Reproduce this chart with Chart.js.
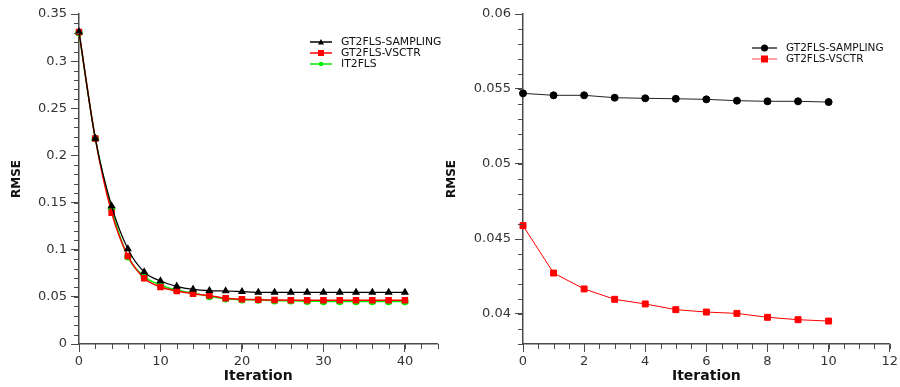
<!DOCTYPE html>
<html>
<head>
<meta charset="utf-8">
<script src="https://cdn.jsdelivr.net/npm/chart.js@4.4.1/dist/chart.umd.min.js"></script>
<style>
  body { margin: 0; background: #fff; }
  #wrap { position: relative; width: 900px; height: 387px; overflow: hidden; }
  #left { position: absolute; left: 0; top: 0; }
  #right { position: absolute; left: 443px; top: 0; }
</style>
</head>
<body>
<div id="wrap">
  <canvas id="left" width="443" height="387"></canvas>
  <canvas id="right" width="457" height="387"></canvas>
</div>
<script>
// left chart: RMSE over 40 iterations
var iterLeft = [0, 2, 4, 6, 8, 10, 12, 14, 16, 18, 20, 22, 24, 26, 28, 30, 32, 34, 36, 38, 40];
var samplingLeft = [0.331, 0.218, 0.1464, 0.1008, 0.0764, 0.0668, 0.0612, 0.058, 0.0566, 0.0562, 0.0555,
                    0.0548, 0.0548, 0.0548, 0.0548, 0.0548, 0.0548, 0.0548, 0.0548, 0.0548, 0.0548];
var vsctrLeft = [0.331, 0.218, 0.1393, 0.0933, 0.0697, 0.0605, 0.0562, 0.0534, 0.0513, 0.0485, 0.0474,
                 0.047, 0.0467, 0.0464, 0.0463, 0.0463, 0.0463, 0.0463, 0.0463, 0.0463, 0.0463];
var it2Left = [0.33, 0.218, 0.1435, 0.0926, 0.0714, 0.0626, 0.0569, 0.0541, 0.0505, 0.048, 0.047,
               0.0467, 0.046, 0.046, 0.0454, 0.0452, 0.045, 0.045, 0.045, 0.045, 0.045];

// right chart: 10 iterations, zoomed
var iterRight = [0, 1, 2, 3, 4, 5, 6, 7, 8, 9, 10];
var samplingRight = [0.05471, 0.05458, 0.05458, 0.05442, 0.05438, 0.05435, 0.05431, 0.05422, 0.05418, 0.05418, 0.05413];
var vsctrRight = [0.04589, 0.04273, 0.04167, 0.04098, 0.04067, 0.04029, 0.04013, 0.04004, 0.03978, 0.03962, 0.03953];

var axisCol = '#4a4a4a';
var textCol = '#333';

function pts(xs, ys) {
  var out = [];
  for (var i in xs) out.push({x: xs[i], y: ys[i]});
  return out;
}

function isMultiple(v, step) {
  var r = v / step;
  return Math.abs(r - Math.round(r)) < 1e-6;
}

// short minor ticks between the labelled ones
var minorTicks = {
  id: 'minorTicks',
  afterDraw: function(chart) {
    var ctx = chart.ctx;
    var cfg = chart.options.plugins.minorTicks;
    ctx.save();
    ctx.strokeStyle = axisCol;
    ctx.lineWidth = 1;
    ['x', 'y'].forEach(function(id) {
      var s = chart.scales[id];
      var step = cfg[id];
      var n = Math.round((s.max - s.min) / step);
      for (var k = 0; k <= n; k++) {
        var v = s.min + k * step;
        var p = Math.round(s.getPixelForValue(v)) + 0.5;
        ctx.beginPath();
        if (id === 'x') {
          ctx.moveTo(p, s.top);
          ctx.lineTo(p, s.top + 5);
        } else {
          ctx.moveTo(s.right, p);
          ctx.lineTo(s.right - 5, p);
        }
        ctx.stroke();
      }
    });
    ctx.restore();
  }
};

function drawMarker(ctx, style, x, y, r) {
  ctx.beginPath();
  if (style === 'triangle') {
    ctx.moveTo(x, y - r);
    ctx.lineTo(x + r, y + r * 0.8);
    ctx.lineTo(x - r, y + r * 0.8);
    ctx.closePath();
  } else if (style === 'rect') {
    ctx.rect(x - r, y - r, 2 * r, 2 * r);
  } else {
    ctx.arc(x, y, r, 0, Math.PI * 2);
  }
  ctx.fill();
}

// legend drawn as line + marker, like the original plot
var lineLegend = {
  id: 'lineLegend',
  afterDraw: function(chart) {
    var cfg = chart.options.plugins.lineLegend;
    var ctx = chart.ctx;
    ctx.save();
    ctx.font = cfg.font + 'px "DejaVu Sans"';
    ctx.textBaseline = 'middle';
    chart.data.datasets.forEach(function(ds, i) {
      var y = cfg.y + i * cfg.row;
      ctx.strokeStyle = cfg.lineColors ? cfg.lineColors[i] : ds.borderColor;
      ctx.lineWidth = 1.5;
      ctx.beginPath();
      ctx.moveTo(cfg.x, y);
      ctx.lineTo(cfg.x + cfg.len, y);
      ctx.stroke();
      ctx.fillStyle = ds.pointBackgroundColor;
      drawMarker(ctx, ds.pointStyle, cfg.x + cfg.len / 2, y, cfg.r[i]);
      ctx.fillStyle = '#111';
      ctx.fillText(ds.label, cfg.x + cfg.len + 9, y + 0.5);
    });
    ctx.restore();
  }
};

function axisX(min, max, major, title, titlePad) {
  return {
    type: 'linear', min: min, max: max,
    afterBuildTicks: function(s) {
      s.ticks = s.ticks.filter(function(t) { return isMultiple(t.value, major); });
    },
    afterFit: function(s) { s.height = 43; },
    ticks: { stepSize: major, padding: 2, color: textCol, font: {family: 'DejaVu Sans', size: 13},
             maxRotation: 0, autoSkip: false },
    grid: { drawOnChartArea: false, tickLength: 8, tickColor: axisCol, tickWidth: 1 },
    border: { color: axisCol, width: 1.5 },
    title: { display: true, text: title, color: '#111', padding: {top: 0, bottom: titlePad},
             font: {family: 'DejaVu Sans', size: 14, weight: 'bold'} }
  };
}

function axisY(min, max, major, width, titlePad) {
  return {
    type: 'linear', min: min, max: max,
    afterBuildTicks: function(s) {
      s.ticks = s.ticks.filter(function(t) { return isMultiple(t.value, major); });
    },
    afterFit: function(s) { s.width = width; },
    ticks: { stepSize: major, padding: 4, color: textCol, font: {family: 'DejaVu Sans', size: 13},
             callback: function(v) { return String(Number(v.toFixed(4))); } },
    grid: { drawOnChartArea: false, tickLength: 8, tickColor: axisCol, tickWidth: 1 },
    border: { color: axisCol, width: 1.5 },
    title: { display: true, text: 'RMSE', color: '#111', padding: {top: titlePad, bottom: 0},
             font: {family: 'DejaVu Sans', size: 12, weight: 'bold'} }
  };
}

new Chart(document.getElementById('left'), {
  type: 'line',
  data: {
    datasets: [
      { label: 'GT2FLS-SAMPLING', data: pts(iterLeft, samplingLeft), borderColor: '#000',
        pointBackgroundColor: '#000', pointBorderColor: '#000', pointStyle: 'triangle',
        pointRadius: 3.5, borderWidth: 1.2, cubicInterpolationMode: 'monotone', clip: false },
      { label: 'GT2FLS-VSCTR', data: pts(iterLeft, vsctrLeft), borderColor: '#ff0000',
        pointBackgroundColor: '#ff0000', pointBorderColor: '#ff0000', pointStyle: 'rect',
        pointRadius: 3.5, borderWidth: 1.5, cubicInterpolationMode: 'monotone', clip: false },
      { label: 'IT2FLS', data: pts(iterLeft, it2Left), borderColor: '#00ee00',
        pointBackgroundColor: '#00ee00', pointBorderColor: '#00ee00', pointStyle: 'circle',
        pointRadius: 3, borderWidth: 1.5, cubicInterpolationMode: 'monotone', clip: false }
    ]
  },
  options: {
    responsive: false, animation: false,
    layout: { padding: {top: 14, right: 1, left: 0, bottom: 0} },
    scales: { x: axisX(0, 44, 10, 'Iteration', 2), y: axisY(0, 0.35, 0.05, 79, 10) },
    plugins: {
      legend: { display: false }, tooltip: { enabled: false },
      minorTicks: { x: 2, y: 0.01 },
      lineLegend: { x: 310, y: 42, row: 11, len: 22, r: [3, 3, 2.3], font: 10.8 }
    }
  },
  plugins: [minorTicks, lineLegend]
});

new Chart(document.getElementById('right'), {
  type: 'line',
  data: {
    datasets: [
      { label: 'GT2FLS-SAMPLING', data: pts(iterRight, samplingRight), borderColor: '#222',
        pointBackgroundColor: '#000', pointBorderColor: '#000', pointStyle: 'circle',
        pointRadius: 3.5, borderWidth: 1, tension: 0, clip: false },
      { label: 'GT2FLS-VSCTR', data: pts(iterRight, vsctrRight), borderColor: '#ff0000',
        pointBackgroundColor: '#ff0000', pointBorderColor: '#ff0000', pointStyle: 'rect',
        pointRadius: 4.2, borderWidth: 1, tension: 0, clip: false }
    ]
  },
  options: {
    responsive: false, animation: false,
    layout: { padding: {top: 14, right: 10, left: 0, bottom: 0} },
    scales: { x: axisX(0, 12, 2, 'Iteration', 2), y: axisY(0.038, 0.06, 0.005, 80, 2) },
    plugins: {
      legend: { display: false }, tooltip: { enabled: false },
      minorTicks: { x: 0.5, y: 0.001 },
      lineLegend: { x: 309, y: 48, row: 11, len: 25, r: [3.5, 3.5], font: 10.5,
                    lineColors: ['#333', '#ff8080'] }
    }
  },
  plugins: [minorTicks, lineLegend]
});
</script>
</body>
</html>
